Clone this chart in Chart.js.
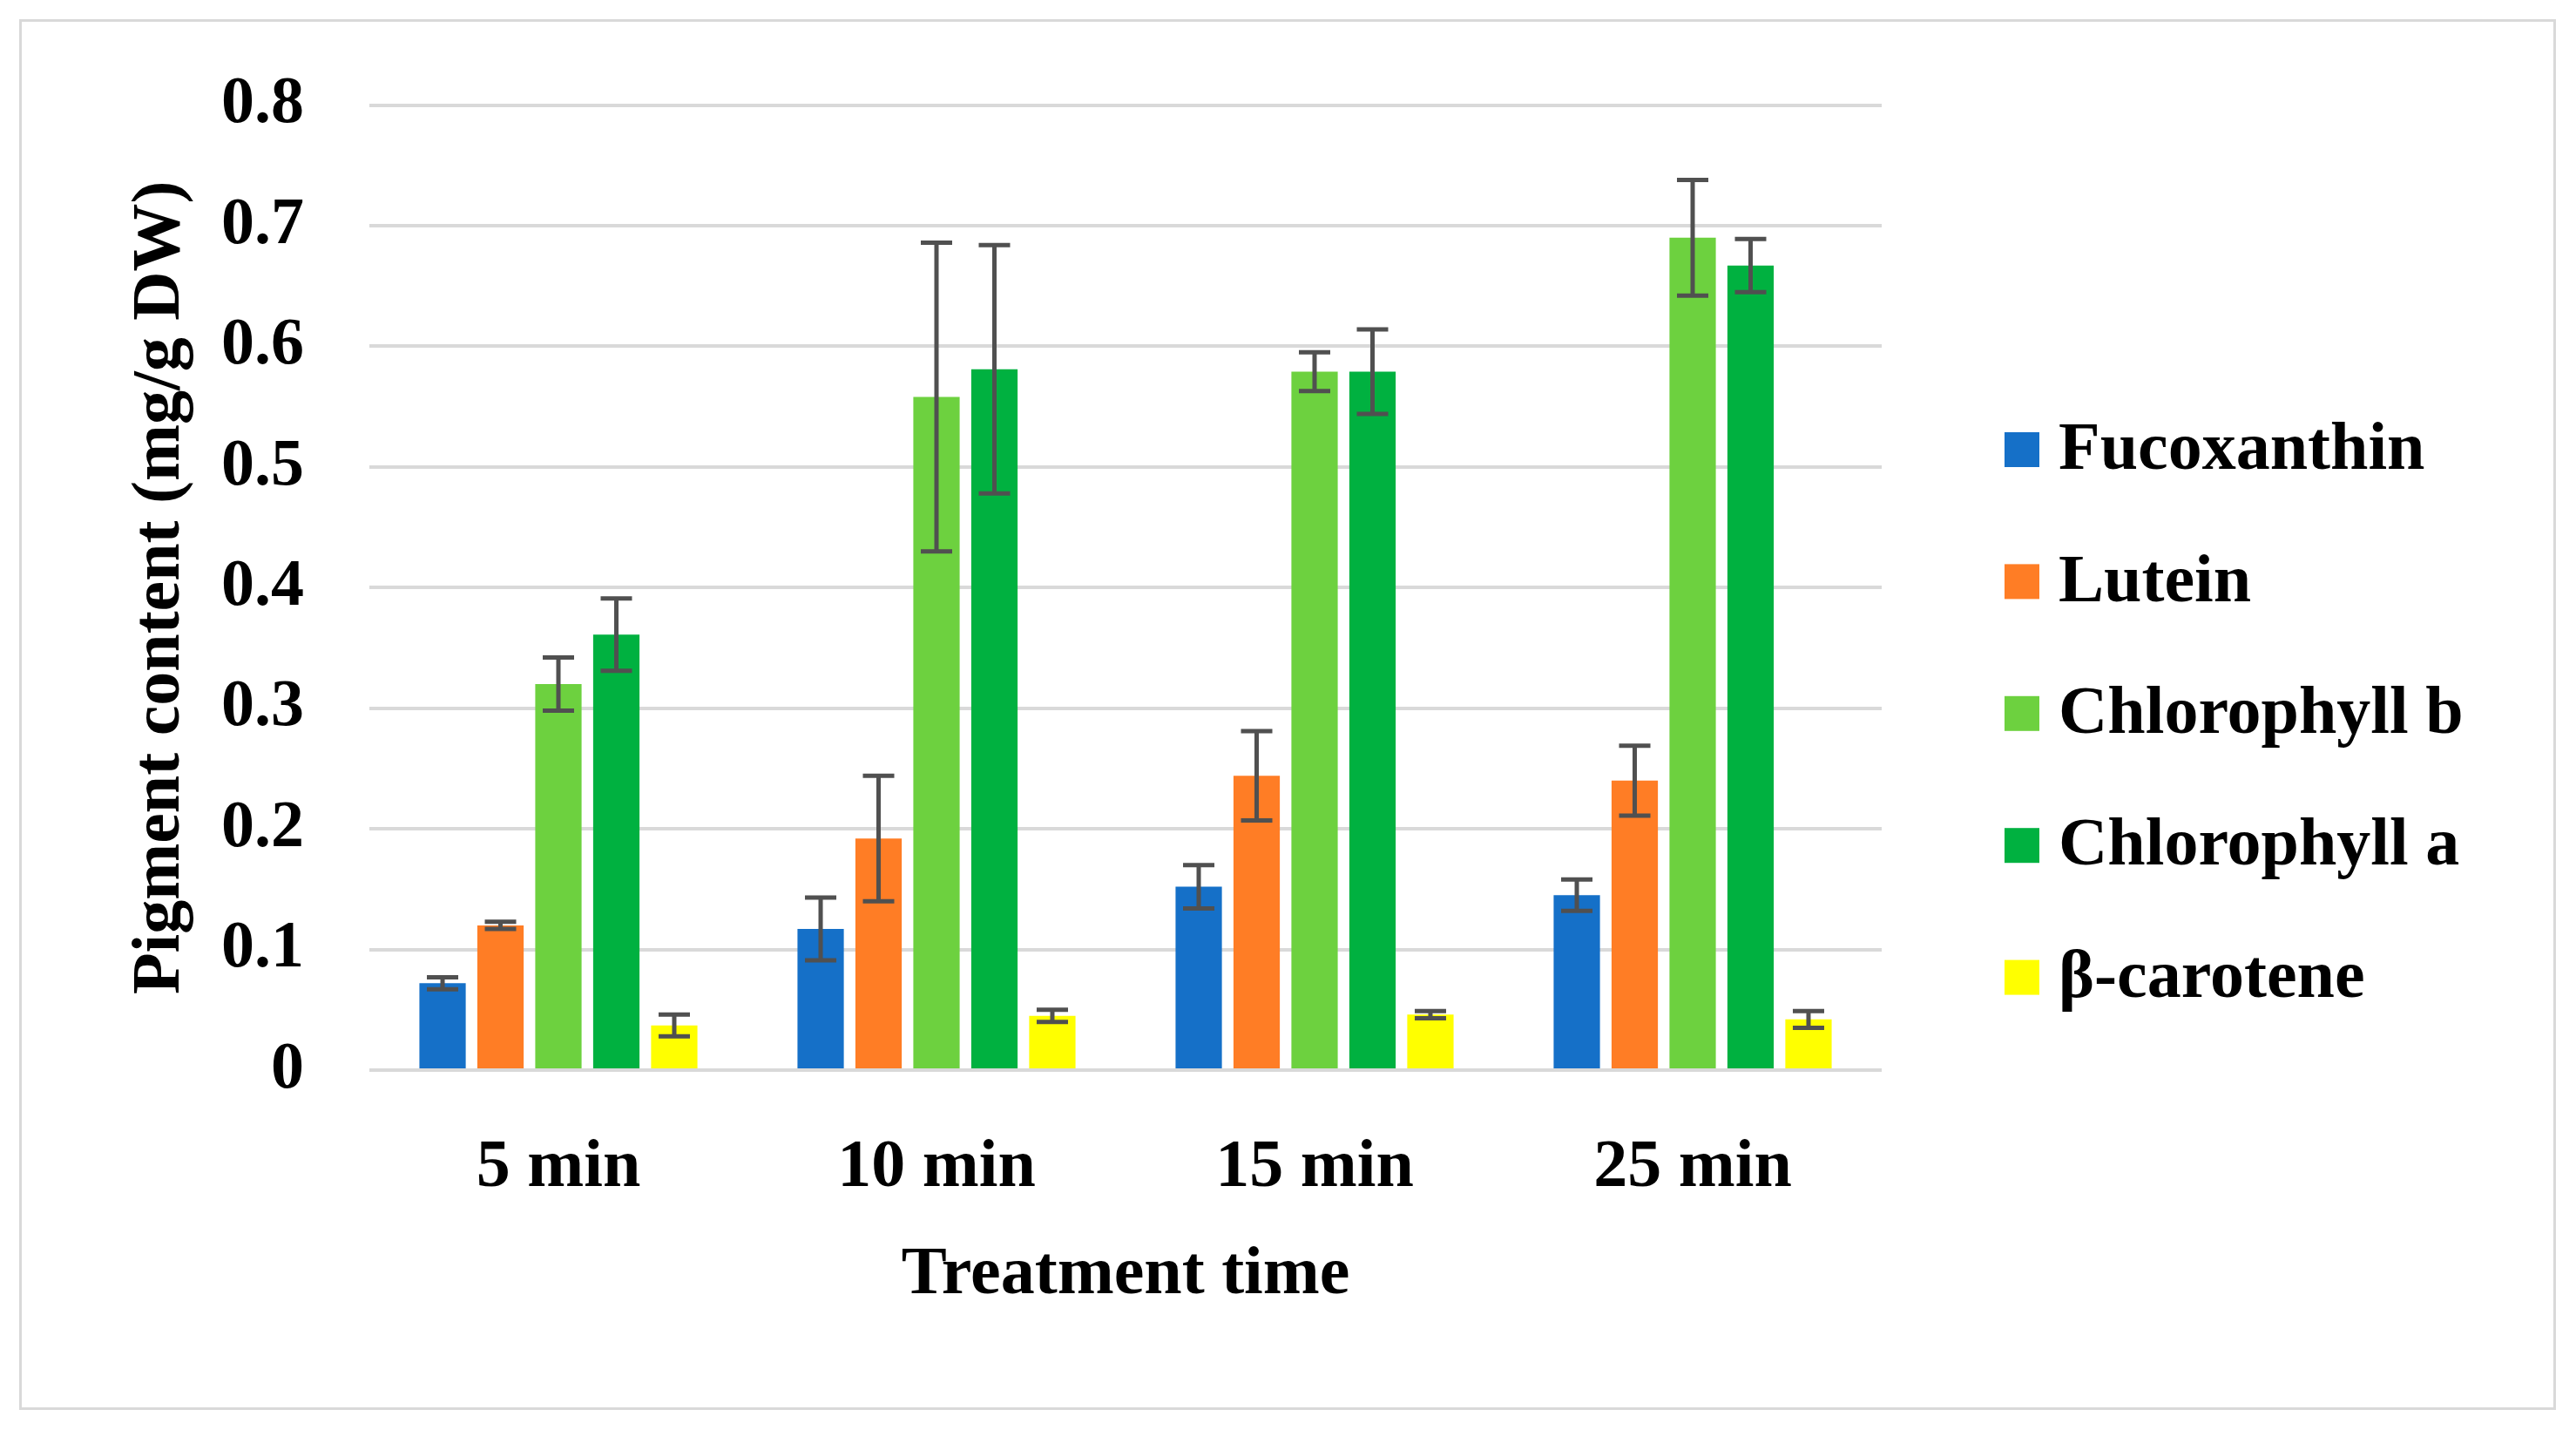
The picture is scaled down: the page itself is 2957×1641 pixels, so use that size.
<!DOCTYPE html>
<html>
<head>
<meta charset="utf-8">
<script src="https://cdn.jsdelivr.net/npm/chart.js@4.4.1/dist/chart.umd.min.js"></script>
<style>
  html, body { margin: 0; padding: 0; background: #ffffff; }
  #wrap { position: relative; width: 2957px; height: 1641px; }
  #frame { position: absolute; left: 22px; top: 22px; width: 2906px; height: 1590px; border: 3px solid #d9d9d9; pointer-events: none; }
  canvas { display: block; }
</style>
</head>
<body>
<div id="wrap">
  <canvas id="c" width="2957" height="1641" style="width:2957px;height:1641px"></canvas>
  <div id="frame"></div>
</div>
<script>
const categories = ['5 min', '10 min', '15 min', '25 min'];
const seriesNames = ['Fucoxanthin', 'Lutein', 'Chlorophyll b', 'Chlorophyll a', 'β-carotene'];
const fucoxanthin = [0.072, 0.117, 0.152, 0.145];
const fucoxanthinErr = [0.005, 0.026, 0.018, 0.013];
const lutein = [0.120, 0.192, 0.244, 0.240];
const luteinErr = [0.003, 0.052, 0.037, 0.029];
const chlorophyllB = [0.320, 0.558, 0.579, 0.690];
const chlorophyllBErr = [0.022, 0.128, 0.016, 0.048];
const chlorophyllA = [0.361, 0.581, 0.579, 0.667];
const chlorophyllAErr = [0.030, 0.103, 0.035, 0.022];
const betaCarotene = [0.037, 0.045, 0.046, 0.042];
const betaCaroteneErr = [0.009, 0.005, 0.003, 0.007];
const yTickLabels = ['0', '0.1', '0.2', '0.3', '0.4', '0.5', '0.6', '0.7', '0.8'];
const xTitle = 'Treatment time';
const yTitle = 'Pigment content (mg/g DW)';

const colors = ['#1570c8', '#ff7d25', '#6dd13f', '#00b140', '#ffff00'];
const values = [fucoxanthin, lutein, chlorophyllB, chlorophyllA, betaCarotene];
const errors = [fucoxanthinErr, luteinErr, chlorophyllBErr, chlorophyllAErr, betaCaroteneErr];

const FONT = '"Liberation Serif", "Times New Roman", serif';

const datasets = seriesNames.map((name, i) => ({
  label: name,
  data: values[i],
  errors: errors[i],
  backgroundColor: colors[i],
  borderWidth: 0,
  categoryPercentage: 0.766,
  barPercentage: 0.8
}));

const errorBarPlugin = {
  id: 'errorBars',
  afterDatasetsDraw(chart) {
    const ctx = chart.ctx;
    const yScale = chart.scales.y;
    ctx.save();
    ctx.strokeStyle = '#505050';
    ctx.lineWidth = 5;
    ctx.lineCap = 'butt';
    chart.data.datasets.forEach((ds, di) => {
      const meta = chart.getDatasetMeta(di);
      meta.data.forEach((bar, i) => {
        const v = ds.data[i], e = ds.errors[i];
        const x = bar.x;
        const yt = yScale.getPixelForValue(v + e);
        const yb = yScale.getPixelForValue(v - e);
        const half = 18;
        ctx.beginPath();
        ctx.moveTo(x, yt); ctx.lineTo(x, yb);
        ctx.moveTo(x - half, yt); ctx.lineTo(x + half, yt);
        ctx.moveTo(x - half, yb); ctx.lineTo(x + half, yb);
        ctx.stroke();
      });
    });
    ctx.restore();
  }
};

const legendPlugin = {
  id: 'sideLegend',
  afterDraw(chart) {
    const ctx = chart.ctx;
    ctx.save();
    ctx.font = 'bold 78px ' + FONT;
    ctx.textBaseline = 'middle';
    ctx.textAlign = 'left';
    chart.data.datasets.forEach((ds, i) => {
      const cy = 516 + i * 151.4;
      ctx.fillStyle = ds.backgroundColor;
      ctx.fillRect(2301, cy - 20, 40, 40);
      ctx.fillStyle = '#000000';
      ctx.fillText(ds.label, 2363, cy + 2);
    });
    ctx.restore();
  }
};

new Chart(document.getElementById('c'), {
  type: 'bar',
  data: { labels: categories, datasets },
  options: {
    responsive: false,
    devicePixelRatio: 1,
    animation: false,
    layout: { padding: { top: 117, left: 40, right: 797, bottom: 113 } },
    plugins: {
      legend: { display: false },
      tooltip: { enabled: false }
    },
    scales: {
      x: {
        offset: true,
        grid: { display: false, drawTicks: false },
        border: { display: false },
        ticks: { color: '#000', padding: 66, font: { family: FONT, size: 78, weight: 'bold' } },
        title: { display: true, text: xTitle, color: '#000', padding: { top: 0, bottom: 17 }, font: { family: FONT, size: 78, weight: 'bold' } },
        afterFit(scale) { scale.height = 300; }
      },
      y: {
        min: 0,
        max: 0.8,
        ticks: {
          stepSize: 0.1,
          color: '#000',
          padding: 75,
          font: { family: FONT, size: 76, weight: 'bold' },
          callback: (v, idx) => yTickLabels[idx]
        },
        grid: { color: '#d9d9d9', lineWidth: 4, drawTicks: false },
        border: { display: false },
        title: { display: true, text: yTitle, color: '#000', padding: { top: 98, bottom: 0 }, font: { family: FONT, size: 78, weight: 'bold' } },
        afterFit(scale) { scale.width = 384; }
      }
    }
  },
  plugins: [errorBarPlugin, legendPlugin]
});
</script>
</body>
</html>
